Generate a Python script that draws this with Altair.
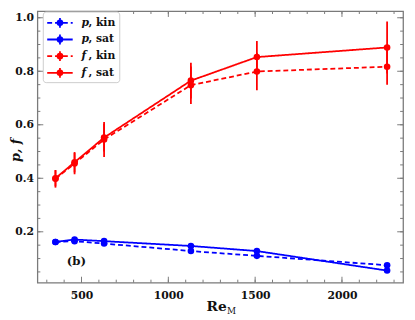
import altair as alt
import pandas as pd

# ---- data ----
re_m = [350, 460, 630, 1130, 1510, 2260]
p_kin = [0.162, 0.165, 0.156, 0.128, 0.110, 0.075]
p_sat = [0.162, 0.171, 0.165, 0.147, 0.128, 0.055]
f_kin = [0.398, 0.455, 0.545, 0.748, 0.799, 0.817]
f_sat = [0.400, 0.460, 0.552, 0.765, 0.853, 0.889]
p_kin_err = [0.005, 0.005, 0.005, 0.005, 0.005, 0.005]
p_sat_err = [0.005, 0.006, 0.005, 0.005, 0.005, 0.005]
f_kin_err = [0.033, 0.040, 0.065, 0.070, 0.070, 0.067]
f_sat_err = [0.030, 0.038, 0.052, 0.067, 0.060, 0.097]

series_names = ["p, kin", "p, sat", "f, kin", "f, sat"]
series_colors = ["#0000ff", "#0000ff", "#ff0000", "#ff0000"]
series_dash = [[5, 3], [1, 0], [5, 3], [1, 0]]
legend_sym = ["p", "p", "f", "f"]
legend_rest = [", kin", ", sat", ", kin", ", sat"]

x_major = [500, 1000, 1500, 2000]
x_minor = list(range(300, 2400, 100))
y_major = [0.2, 0.4, 0.6, 0.8, 1.0]
y_minor = [round(0.05 * i, 2) for i in range(1, 21)]

X_DOMAIN = [246, 2352]
Y_DOMAIN = [0.01, 1.025]
W, H = 373, 277

rows = []
for name, ys, es in zip(series_names, [p_kin, p_sat, f_kin, f_sat],
                        [p_kin_err, p_sat_err, f_kin_err, f_sat_err]):
    for xv, yv, ev in zip(re_m, ys, es):
        rows.append({"x": xv, "y": yv, "lo": yv - ev, "hi": yv + ev, "s": name})
df = pd.DataFrame(rows)

xs = alt.Scale(domain=X_DOMAIN, nice=False, zero=False)
ys_ = alt.Scale(domain=Y_DOMAIN, nice=False, zero=False)
color = alt.Color("s:N", scale=alt.Scale(domain=series_names, range=series_colors), legend=None)
dash = alt.StrokeDash("s:N", scale=alt.Scale(domain=series_names, range=series_dash), legend=None)

FONT = "DejaVu Serif"
GRAY = "#7a7a7a"
LW = 1.8

base = alt.Chart(df)
lines = base.mark_line(strokeWidth=LW).encode(
    x=alt.X("x:Q", scale=xs, axis=alt.Axis(values=x_major, format="d", ticks=False, domain=False,
                                            grid=False, title=None, labelFont=FONT, labelFontSize=11,
                                            labelFontWeight="bold", labelColor="#111", labelPadding=7)),
    y=alt.Y("y:Q", scale=ys_, axis=alt.Axis(values=y_major, format=".1f", ticks=False, domain=False,
                                             grid=False, title=None, labelFont=FONT, labelFontSize=11,
                                             labelFontWeight="bold", labelColor="#111", labelPadding=4)),
    color=color, strokeDash=dash, detail="s:N",
)
errs = base.mark_rule(strokeWidth=LW).encode(
    x=alt.X("x:Q", scale=xs, axis=None), y=alt.Y("lo:Q", scale=ys_, axis=None), y2="hi:Q", color=color)
pts = base.mark_circle(size=45, opacity=1).encode(
    x=alt.X("x:Q", scale=xs, axis=None), y=alt.Y("y:Q", scale=ys_, axis=None), color=color)

# inward ticks on all four sides
def yticks(vals, length):
    d = alt.Chart(pd.DataFrame({"v": vals}))
    l = d.mark_rule(color=GRAY, strokeWidth=1).encode(
        y=alt.Y("v:Q", scale=ys_, axis=None), x=alt.value(0), x2=alt.value(length))
    r = d.mark_rule(color=GRAY, strokeWidth=1).encode(
        y=alt.Y("v:Q", scale=ys_, axis=None), x=alt.value(W - length), x2=alt.value(W))
    return [l, r]

def xticks(vals, length):
    d = alt.Chart(pd.DataFrame({"v": vals}))
    b = d.mark_rule(color=GRAY, strokeWidth=1).encode(
        x=alt.X("v:Q", scale=xs, axis=None), y=alt.value(H - length), y2=alt.value(H))
    t = d.mark_rule(color=GRAY, strokeWidth=1).encode(
        x=alt.X("v:Q", scale=xs, axis=None), y=alt.value(0), y2=alt.value(length))
    return [b, t]

tick_layers = yticks(y_major, 6) + yticks(y_minor, 3) + xticks(x_major, 6) + xticks(x_minor, 3)

# panel label
panel = alt.Chart(pd.DataFrame({"x": [470], "y": [0.09], "t": ["(b)"]})).mark_text(
    font=FONT, fontSize=12, fontWeight="bold", color="#111").encode(
    x=alt.X("x:Q", scale=xs, axis=None), y=alt.Y("y:Q", scale=ys_, axis=None), text="t:N")

# custom legend
LX0, LX1 = 10, 36
LMX = 23
LTX = 45
LY = [12, 29, 46, 63]
leg_layers = [
    alt.Chart(pd.DataFrame({"a": [0]})).mark_rect(
        fill="white", stroke="#cccccc", strokeWidth=1, cornerRadius=3).encode(
        x=alt.value(6), x2=alt.value(84), y=alt.value(1), y2=alt.value(73))
]
for i in range(4):
    d = alt.Chart(pd.DataFrame({"sym": [legend_sym[i]], "rest": [legend_rest[i]]}))
    c = series_colors[i]
    leg_layers.append(d.mark_rule(color=c, strokeWidth=LW, strokeDash=series_dash[i]).encode(
        x=alt.value(LX0), x2=alt.value(LX1), y=alt.value(LY[i])))
    leg_layers.append(d.mark_rule(color=c, strokeWidth=LW).encode(
        x=alt.value(LMX), y=alt.value(LY[i] - 5), y2=alt.value(LY[i] + 5)))
    leg_layers.append(d.mark_circle(color=c, size=45, opacity=1).encode(
        x=alt.value(LMX), y=alt.value(LY[i])))
    leg_layers.append(d.mark_text(font=FONT, fontSize=11, fontStyle="italic", fontWeight="bold",
                                  align="left", baseline="middle", color="#111").encode(
        x=alt.value(LTX), y=alt.value(LY[i]), text="sym:N"))
    leg_layers.append(d.mark_text(font=FONT, fontSize=11, fontWeight="bold",
                                  align="left", baseline="middle", color="#111").encode(
        x=alt.value(LTX + 7), y=alt.value(LY[i]), text="rest:N"))

# axis titles
titles = alt.Chart(pd.DataFrame({"re": ["Re"], "m": ["M"], "yt": ["p, f"]}))
t_re = titles.mark_text(font=FONT, fontSize=14, fontWeight="bold", align="right",
                        baseline="alphabetic", color="#111").encode(
    x=alt.value(193), y=alt.value(H + 29), text="re:N")
t_m = titles.mark_text(font=FONT, fontSize=9, align="left", baseline="alphabetic",
                       color="#111").encode(x=alt.value(193.5), y=alt.value(H + 32), text="m:N")
t_y = titles.mark_text(font=FONT, fontSize=13, fontWeight="bold", fontStyle="italic", angle=270,
                       align="center", baseline="middle", color="#111").encode(
    x=alt.value(-22), y=alt.value(142), text="yt:N")

chart = alt.layer(
    lines, errs, pts, *tick_layers, panel, *leg_layers, t_re, t_m, t_y
).resolve_axis(x="independent", y="independent").properties(
    width=W, height=H,
    autosize=alt.AutoSizeParams(type="none"),
    padding={"left": 30, "top": 0, "right": 4, "bottom": 35},
).configure_view(stroke=GRAY, strokeWidth=1.3)

chart.save("out.html", embed_options={"renderer": "svg", "actions": False})
